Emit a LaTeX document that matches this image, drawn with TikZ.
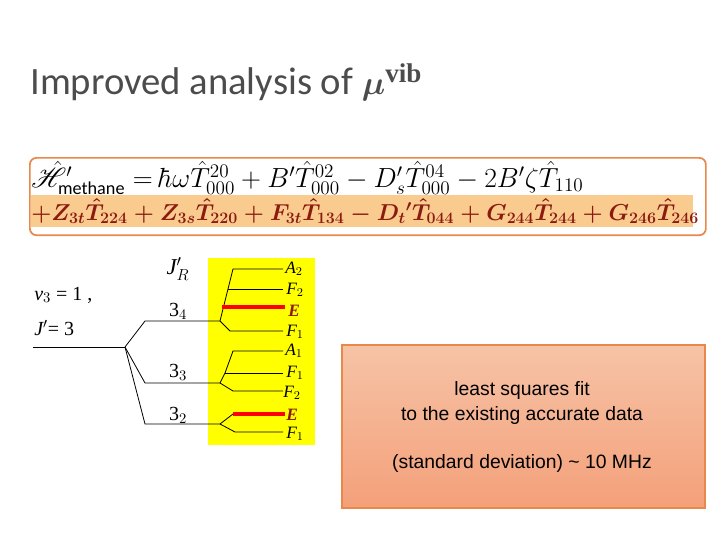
\documentclass[tikz,border=0pt]{standalone}
\usepackage{fontspec}
\usepackage{amsmath,amssymb,mathrsfs}
\setmainfont{Carlito}
\newfontfamily\arialf{Liberation Sans}
\newfontfamily\serf{Liberation Serif}
\definecolor{ybg}{HTML}{FFFF00}
\definecolor{eqb}{HTML}{E8884A}
\definecolor{hl}{HTML}{F9CB8F}
\definecolor{dred}{HTML}{8B1A10}
\definecolor{boxtop}{HTML}{F6C3A6}
\definecolor{boxbot}{HTML}{F4A07A}
\begin{document}
\begin{tikzpicture}[x=0.75pt,y=-0.75pt,
  lv/.style={draw=black,line width=0.6pt},
  red/.style={draw=red,line width=3.5pt},
  sym/.style={font=\serf\itshape\fontsize{13}{13}\selectfont,anchor=west,inner sep=0pt},
  lab/.style={font=\serf\fontsize{15}{15}\selectfont,inner sep=0pt}]
\useasboundingbox (0,0) rectangle (720,540);
\node[anchor=west,inner sep=0pt,font=\fontsize{29}{29}\selectfont,text=black!70] (title) at (30,82) {Improved analysis of $\boldsymbol{\mu}^{\text{\serf\bfseries vib}}$};
% equation box
\node[draw=eqb,line width=1.3pt,rounded corners=5pt,minimum width=507pt,minimum height=58pt,anchor=north west] (eqbox) at (29,157) {};
\fill[hl] (31,195) rectangle (693,227);
\node[anchor=west,inner sep=0pt,font=\fontsize{19.5}{19.5}\selectfont] (eq1) at (31,178) {$\hat{\mathscr{H}}'_{\text{methane}}=\hbar\omega\hat{T}^{20}_{000}+B'\hat{T}^{02}_{000}-D'_s\hat{T}^{04}_{000}-2B'\zeta\hat{T}_{110}$};
\node[anchor=west,inner sep=0pt,font=\fontsize{16.9}{16.9}\selectfont,text=dred] (eq2) at (31,211) {$\boldsymbol{+Z_{3t}\hat{T}_{224}+Z_{3s}\hat{T}_{220}+F_{3t}\hat{T}_{134}-D_t{}'\hat{T}_{044}+G_{244}\hat{T}_{244}+G_{246}\hat{T}_{246}}$};
% yellow area
\fill[ybg] (208,258) rectangle (315,445);
% energy levels
\coordinate (c0) at (125,347);
\draw[lv] (33,347) -- (c0);
\coordinate (c4) at (220,321); \coordinate (c3) at (220,383); \coordinate (c2) at (220,424);
\draw[lv] (c0) -- (145,321) -- (c4);
\draw[lv] (c0) -- (145,383) -- (c3);
\draw[lv] (c0) -- (145,424) -- (c2);
% 3_4
\draw[lv] (c4) -- (228,289) -- (233,269) -- (283,269);
\draw[lv] (228,289) -- (283,289);
\draw[lv] (c4) -- (230,331) -- (283,331);
\draw[red] (222,307) -- (285,307);
% 3_3
\draw[lv] (c3) -- (225,373) -- (233,351) -- (283,351);
\draw[lv] (225,373) -- (283,373);
\draw[lv] (c3) -- (233,391) -- (283,391);
% 3_2
\draw[lv] (c2) -- (233,414);
\draw[red] (233,414) -- (285,414);
\draw[lv] (c2) -- (235,432) -- (283,432);
% symmetry labels
\node[sym] (a2) at (285,269) {A$_2$};
\node[sym] (f2a) at (286,290) {F$_2$};
\node[sym,text=dred,font=\serf\itshape\bfseries\fontsize{13}{13}\selectfont] (e1) at (288,311) {E};
\node[sym] (f1a) at (286,332) {F$_1$};
\node[sym] (a1) at (285,351) {A$_1$};
\node[sym] (f1b) at (286,373) {F$_1$};
\node[sym] (f2b) at (283,393) {F$_2$};
\node[sym,text=dred,font=\serf\itshape\bfseries\fontsize{13}{13}\selectfont] (e2) at (286,415) {E};
\node[sym] (f1c) at (286,434) {F$_1$};
% J labels
\node[lab,font=\serf\itshape\fontsize{17}{17}\selectfont] (jr) at (178,269) {J$'_R$};
\node[lab] (l34) at (178,311) {3$_4$};
\node[lab] (l33) at (178,372) {3$_3$};
\node[lab] (l32) at (178,415) {3$_2$};
\node[lab,anchor=west] (v3) at (34,295) {\itshape v\/$_3$\upshape\ = 1 ,};
\node[lab,anchor=west] (j3) at (34,328) {\itshape J$'$\upshape = 3};
% fit box
\shade[top color=boxtop,bottom color=boxbot,draw=eqb,line width=0.8pt] (342,345) rectangle (705,508);
\node[font=\arialf\fontsize{14.5}{18.5}\selectfont,align=center] (fit) at (522,403) {least squares fit\\to the existing accurate data};
\node[font=\arialf\fontsize{14.5}{16}\selectfont] (sd) at (522,463) {(standard deviation) \textasciitilde\ 10 MHz};
\end{tikzpicture}
\end{document}
